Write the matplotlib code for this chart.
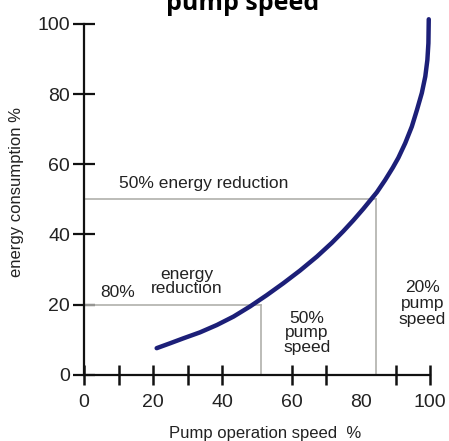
import matplotlib
matplotlib.use("Agg")
import matplotlib.pyplot as plt

plt.rcParams['font.family'] = ['Liberation Sans', 'DejaVu Sans']

# Data
speed = [21.0, 24.9, 28.7, 33.5, 38.4, 43.2, 48.0, 52.8, 57.6, 62.4, 67.3, 71.6, 74.9,
         77.8, 80.7, 84.6, 87.0, 89.2, 90.8, 92.8, 94.7, 96.2, 97.6, 98.6, 99.2, 99.5, 99.6]
energy = [7.6, 9.0, 10.4, 12.1, 14.2, 16.6, 19.5, 22.7, 26.1, 29.7, 33.7, 37.6, 40.9,
          44.0, 47.3, 52.0, 55.5, 59.0, 61.8, 66.0, 70.7, 75.5, 80.3, 85.0, 89.7, 94.5, 101.3]
x_label_values = [0, 20, 40, 60, 80, 100]
x_tick_marks = [0, 10, 20, 30, 40, 60, 70, 90, 100]
y_ticks = [0, 20, 40, 60, 80, 100]
ref_80 = (51, 20)    # 80% energy reduction point (speed, energy)
ref_50 = (84.5, 50)  # 50% energy reduction point

fig = plt.figure(figsize=(4.49, 4.41), dpi=100)
ax = fig.add_axes([0.187, 0.150, 0.771, 0.796])

guide = '#b0b0ac'
ax.plot([0, ref_50[0]], [ref_50[1], ref_50[1]], color=guide, lw=1.2)
ax.plot([ref_50[0], ref_50[0]], [0, ref_50[1]], color=guide, lw=1.2)
ax.plot([0, ref_80[0]], [ref_80[1], ref_80[1]], color=guide, lw=1.2)
ax.plot([ref_80[0], ref_80[0]], [0, ref_80[1]], color=guide, lw=1.2)

ax.plot(speed, energy, color='#1c1f78', lw=3.2, solid_capstyle='round',
        solid_joinstyle='round', clip_on=False, zorder=5)

ax.set_xlim(0, 100)
ax.set_ylim(0, 100)
for s in ['top', 'right']:
    ax.spines[s].set_visible(False)
for s in ['left', 'bottom']:
    ax.spines[s].set_linewidth(1.6)
    ax.spines[s].set_color('#111111')

ax.xaxis.remove_overlapping_locs = False
ax.set_xticks(x_label_values)
ax.set_xticklabels([str(v) for v in x_label_values])
ax.set_xticks(x_tick_marks, minor=True)
ax.tick_params(axis='x', which='major', length=0, pad=14, labelsize=14, labelcolor='#222222')
ax.tick_params(axis='x', which='minor', direction='inout', length=14, width=1.8, color='#111111')

ax.set_yticks(y_ticks)
ax.set_yticklabels([str(v) for v in y_ticks])
ax.tick_params(axis='y', which='major', direction='inout', length=16, width=1.6, pad=2,
               labelsize=14, labelcolor='#222222', color='#111111')

ax.set_xlabel('Pump operation speed  %', fontsize=12, color='#222222')
ax.xaxis.set_label_coords(0.523, -0.145)
ax.set_ylabel('energy consumption %', fontsize=12, color='#222222')
ax.yaxis.set_label_coords(-0.173, 0.521)

tc = '#222222'
fs = 12.5
ax.text(10.2, 54.4, '50% energy reduction', fontsize=fs, color=tc, ha='left', va='center')
ax.text(4.6, 23.6, '80%', fontsize=fs, color=tc, ha='left', va='center')
ax.text(29.8, 26.6, 'energy\nreduction', fontsize=fs, color=tc, ha='center', va='center',
        linespacing=0.95)
ax.text(64.4, 12.0, '50%\npump\nspeed', fontsize=fs, color=tc, ha='center', va='center',
        linespacing=0.95)
ax.text(97.7, 20.3, '20%\npump\nspeed', fontsize=fs, color=tc, ha='center', va='center',
        linespacing=1.1)

fig.text(0.541, 0.977, 'pump speed', fontsize=18, fontweight='bold', ha='center',
         va='baseline', family=['Open Sans', 'DejaVu Sans'])

fig.savefig('out.png', dpi=100, facecolor='white')
